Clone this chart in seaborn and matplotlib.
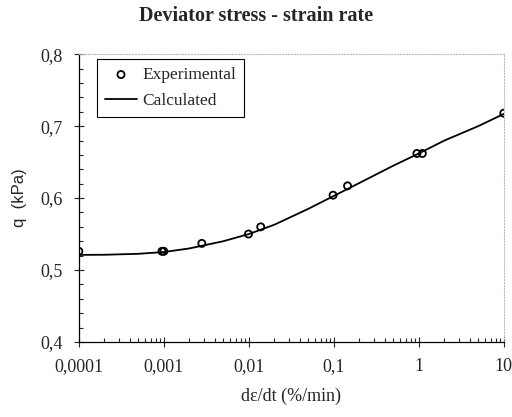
import numpy as np
import pandas as pd
import matplotlib
matplotlib.use("Agg")
import matplotlib.pyplot as plt
import matplotlib.ticker as mticker
import seaborn as sns

# === dati ===
rate_exp = [0.0001, 0.00095, 0.001, 0.0028, 0.0099, 0.0138, 0.098, 0.145, 0.95, 1.1, 10]
q_exp = [0.526, 0.526, 0.526, 0.537, 0.550, 0.560, 0.604, 0.617, 0.662, 0.662, 0.718]

rate_calc = [0.0001, 0.0001, 0.0002, 0.0005, 0.001, 0.002, 0.005, 0.01, 0.02, 0.05,
             0.1, 0.2, 0.5, 1, 2, 5, 10]
q_calc = [0.526, 0.521, 0.5212, 0.5225, 0.525, 0.530, 0.540, 0.550, 0.563, 0.585,
          0.603, 0.621, 0.645, 0.662, 0.680, 0.700, 0.717]

xticks = [0.0001, 0.001, 0.01, 0.1, 1, 10]
xtick_labels = ["0,0001", "0,001", "0,01", "0,1", "1", "10"]
yticks = [0.4, 0.5, 0.6, 0.7, 0.8]
ytick_labels = ["0,4", "0,5", "0,6", "0,7", "0,8"]

exp = pd.DataFrame({"rate": rate_exp, "q": q_exp})
calc = pd.DataFrame({"rate": rate_calc, "q": q_calc})

sns.set_style("ticks")
plt.rcParams["font.family"] = ["Liberation Serif", "DejaVu Serif"]

fig = plt.figure(figsize=(5.12, 4.17), dpi=100)
ax = fig.add_axes([0.154, 0.18, 0.83, 0.69])

sns.lineplot(data=calc, x="rate", y="q", sort=False, estimator=None, color="black",
             linewidth=1.3, ax=ax, label="Calculated")
sns.scatterplot(data=exp, x="rate", y="q", marker="o", s=26, facecolor="none",
                edgecolor="black", linewidth=1.3, ax=ax, label="Experimental", zorder=3)

ax.set_xscale("log")
ax.set_xlim(0.0001, 10)
ax.set_ylim(0.4, 0.8)
ax.set_xticks(xticks)
ax.set_xticklabels(xtick_labels, fontsize=13)
ax.set_yticks(yticks)
ax.set_yticklabels(ytick_labels, fontsize=13)
ax.yaxis.set_minor_locator(mticker.MultipleLocator(0.02))
ax.xaxis.set_minor_locator(mticker.LogLocator(base=10, subs=np.arange(2, 10)))
ax.xaxis.set_minor_formatter(mticker.NullFormatter())
ax.tick_params(which="major", direction="inout", length=7, width=0.8, pad=8)
ax.tick_params(which="minor", direction="in", length=3, width=0.8)

for s in ["top", "right"]:
    ax.spines[s].set_color("#bbbbbb")
    ax.spines[s].set_linestyle(":")
    ax.spines[s].set_linewidth(0.8)
for s in ["left", "bottom"]:
    ax.spines[s].set_color("black")
    ax.spines[s].set_linewidth(0.9)

ax.set_xlabel("dε/dt (%/min)", fontsize=13, labelpad=9)
ax.set_ylabel("q  (kPa)", fontsize=12, family="Liberation Sans", labelpad=10)
fig.suptitle("Deviator stress - strain rate", fontsize=14.5, fontweight="bold", x=0.5, y=0.985)

handles, labels = ax.get_legend_handles_labels()
order = [labels.index("Experimental"), labels.index("Calculated")]
leg = ax.legend([handles[i] for i in order], [labels[i] for i in order],
                loc="upper left", bbox_to_anchor=(0.042, 0.983), borderaxespad=0,
                fontsize=12.5, frameon=True, fancybox=False, edgecolor="black",
                framealpha=1, handlelength=1.9, handletextpad=0.3, borderpad=0.45,
                labelspacing=0.55)
leg.get_frame().set_linewidth(0.8)

fig.savefig("out.png", dpi=100)
